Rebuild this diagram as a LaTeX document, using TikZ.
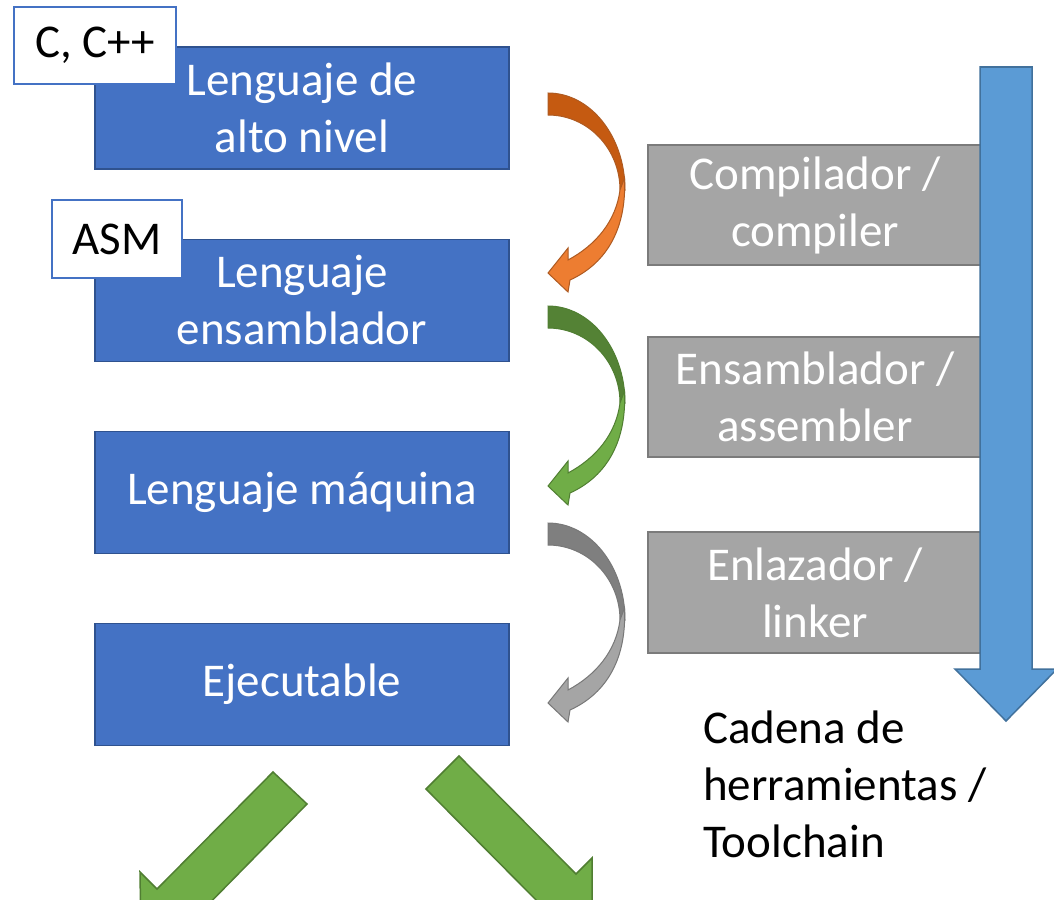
\documentclass[tikz,border=0pt]{standalone}
\usepackage{fontspec}
\setmainfont{Carlito}
\definecolor{boxblue}{HTML}{4472C4}
\definecolor{boxblueline}{HTML}{2F528F}
\definecolor{toolgray}{HTML}{A5A5A5}
\definecolor{toolgrayline}{HTML}{7B7B7B}
\definecolor{bigblue}{HTML}{5B9BD5}
\definecolor{bigblueline}{HTML}{41719C}
\definecolor{orD}{HTML}{C55A11}
\definecolor{orL}{HTML}{ED7D31}
\definecolor{orB}{HTML}{AE5A21}
\definecolor{grD}{HTML}{548235}
\definecolor{grL}{HTML}{70AD47}
\definecolor{grB}{HTML}{507E32}
\definecolor{gyD}{HTML}{7F7F7F}
\definecolor{gyL}{HTML}{A5A5A5}
\definecolor{gyB}{HTML}{787878}
\newcommand\bigfont{\fontsize{47}{57}\selectfont}
\newcommand\curvedarr[4]{%
  \begin{scope}[shift={(548,#1)}]
    \filldraw[fill=#2, draw=#4, line width=1pt]
      (0,0) .. controls (42.5,0) and (77,43.4) .. (77,97)
      -- (72,97) .. controls (72,55.6) and (39.8,22) .. (0,22) -- cycle;
    \filldraw[fill=#3, draw=#4, line width=1pt]
      (76.5,85) .. controls (79,140) and (55,172) .. (22,187)
      -- (20,199) -- (0,180) -- (20,155) -- (20,167)
      .. controls (48,152) and (68,128) .. (72,97) -- cycle;
  \end{scope}}
\begin{document}
\begin{tikzpicture}[x=1pt,y=-1pt,
  lang/.style={draw=boxblueline, line width=1.5pt, fill=boxblue, text=white,
    minimum width=414pt, minimum height=122pt, align=center, inner sep=0pt, font=\bigfont},
  tag/.style={draw=boxblue, line width=2pt, fill=white, text=black,
    inner sep=0pt, font=\bigfont},
  tool/.style={draw=toolgrayline, line width=1.5pt, fill=toolgray, text=white,
    minimum width=334pt, minimum height=120pt, align=center, inner sep=0pt, font=\bigfont},
  blockarr/.style={fill=grL, draw=grB, line width=1.5pt, line join=miter}]
\clip (0,0) rectangle (1054,899);
\fill[white] (0,0) rectangle (1054,899);

% language boxes
\node[lang] (alto) at (302,108) {Lenguaje de\\alto nivel};
\node[lang] (ens) at (302,300.5) {Lenguaje\\ensamblador};
\node[lang] (maq) at (302,492.5) {Lenguaje máquina};
\node[lang] (eje) at (302,684.5) {Ejecutable};

% tags
\node[tag, minimum width=162pt, minimum height=77pt] (cc) at (95,45.5) {C, C++};
\node[tag, minimum width=130pt, minimum height=78pt] (asm) at (117,239) {ASM};

% tool boxes
\node[tool] (comp) at (815,205) {Compilador /\\compiler};
\node[tool] (assem) at (815,397) {Ensamblador /\\assembler};
\node[tool, minimum height=121pt] (link) at (815,592.5) {Enlazador /\\linker};

% big toolchain arrow
\filldraw[fill=bigblue, draw=bigblueline, line width=1.5pt, line join=miter]
  (980,67) -- (1032,67) -- (1032,669) -- (1057,669) -- (1006,721)
  -- (955,669) -- (980,669) -- cycle;

\node[anchor=west, align=left, inner sep=0pt, font=\bigfont, text=black]
  (chain) at (703,784) {Cadena de\\herramientas /\\Toolchain};

% curved arrows
\curvedarr{93}{orD}{orL}{orB}
\curvedarr{306}{grD}{grL}{grB}
\curvedarr{523}{gyD}{gyL}{gyB}

% bottom diagonal arrows
\filldraw[blockarr]
  (273,772) -- (157,889) -- (140,872) -- (141,938) -- (208,939)
  -- (191,922) -- (307,804) -- cycle;
\filldraw[blockarr]
  (459,756) -- (576,874) -- (592,858) -- (592,923) -- (527,923)
  -- (543,907) -- (426,789) -- cycle;
\end{tikzpicture}
\end{document}
